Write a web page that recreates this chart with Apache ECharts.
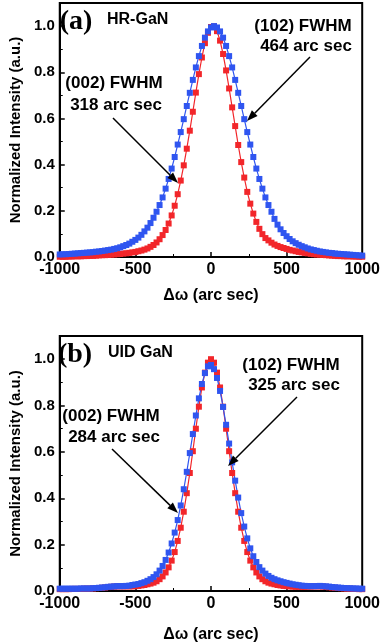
<!DOCTYPE html>
<html>
<head>
<meta charset="utf-8">
<script src="https://cdn.jsdelivr.net/npm/echarts@6/dist/echarts.min.js"></script>
<style>
  html, body { margin: 0; padding: 0; background: #fff; }
  #chart { width: 383px; height: 644px; }
</style>
</head>
<body>
<div id="chart"></div>
<script>
// omega offsets (arc sec)
var omega = [-1000, -980, -960, -940, -920, -900, -880, -860, -840, -820, -800, -780, -760, -740, -720, -700, -680, -660, -640, -620,
  -600, -580, -560, -540, -520, -500, -480, -460, -440, -420, -400, -380, -360, -340, -320, -300, -280, -260, -240, -220,
  -200, -180, -160, -140, -120, -100, -80, -60, -40, -20, 0, 20, 40, 60, 80, 100, 120, 140, 160, 180,
  200, 220, 240, 260, 280, 300, 320, 340, 360, 380, 400, 420, 440, 460, 480, 500, 520, 540, 560, 580,
  600, 620, 640, 660, 680, 700, 720, 740, 760, 780, 800, 820, 840, 860, 880, 900, 920, 940, 960, 980, 1000];

// (a) HR-GaN
var hr002 = [0.001, 0.001, 0.001, 0.002, 0.002, 0.003, 0.003, 0.003, 0.004, 0.004, 0.005, 0.005, 0.006, 0.007, 0.008, 0.008, 0.009, 0.010, 0.011, 0.012,
  0.013, 0.015, 0.016, 0.018, 0.020, 0.022, 0.025, 0.028, 0.032, 0.037, 0.044, 0.052, 0.063, 0.077, 0.095, 0.117, 0.145, 0.180, 0.222, 0.272,
  0.331, 0.397, 0.469, 0.547, 0.629, 0.712, 0.792, 0.864, 0.926, 0.971, 0.996, 0.999, 0.978, 0.937, 0.879, 0.808, 0.730, 0.648, 0.567, 0.485,
  0.411, 0.344, 0.282, 0.231, 0.188, 0.152, 0.122, 0.099, 0.082, 0.072, 0.062, 0.054, 0.048, 0.043, 0.039, 0.035, 0.031, 0.028, 0.025, 0.022,
  0.020, 0.018, 0.016, 0.014, 0.012, 0.011, 0.010, 0.009, 0.008, 0.007, 0.006, 0.005, 0.004, 0.004, 0.003, 0.003, 0.003, 0.002, 0.002, 0.001, 0.001];
var hr102 = [0.011, 0.012, 0.012, 0.013, 0.014, 0.015, 0.016, 0.017, 0.018, 0.019, 0.020, 0.021, 0.023, 0.024, 0.026, 0.028, 0.030, 0.032, 0.035, 0.038,
  0.042, 0.047, 0.052, 0.058, 0.066, 0.074, 0.084, 0.096, 0.111, 0.127, 0.147, 0.170, 0.196, 0.225, 0.258, 0.296, 0.338, 0.383, 0.433, 0.487,
  0.541, 0.597, 0.654, 0.711, 0.767, 0.821, 0.870, 0.914, 0.950, 0.977, 0.994, 1.000, 0.994, 0.977, 0.950, 0.914, 0.870, 0.821, 0.767, 0.711,
  0.654, 0.597, 0.541, 0.487, 0.433, 0.383, 0.338, 0.296, 0.258, 0.225, 0.196, 0.165, 0.140, 0.120, 0.104, 0.090, 0.078, 0.068, 0.060, 0.053,
  0.047, 0.042, 0.037, 0.033, 0.030, 0.027, 0.024, 0.022, 0.020, 0.018, 0.017, 0.015, 0.014, 0.013, 0.012, 0.011, 0.010, 0.009, 0.008, 0.007, 0.006];

// (b) UID GaN
var uid002 = [0.008, 0.008, 0.008, 0.008, 0.009, 0.009, 0.009, 0.009, 0.010, 0.010, 0.010, 0.011, 0.012, 0.013, 0.014, 0.015, 0.017, 0.018, 0.019, 0.020,
  0.020, 0.020, 0.020, 0.020, 0.020, 0.021, 0.022, 0.024, 0.026, 0.029, 0.032, 0.036, 0.042, 0.051, 0.063, 0.080, 0.102, 0.131, 0.168, 0.216,
  0.273, 0.342, 0.422, 0.509, 0.603, 0.700, 0.795, 0.878, 0.942, 0.985, 1.000, 0.985, 0.942, 0.878, 0.795, 0.700, 0.603, 0.509, 0.422, 0.342,
  0.273, 0.216, 0.168, 0.131, 0.102, 0.080, 0.063, 0.051, 0.042, 0.036, 0.032, 0.029, 0.026, 0.024, 0.022, 0.021, 0.020, 0.019, 0.018, 0.018,
  0.018, 0.018, 0.019, 0.019, 0.020, 0.020, 0.020, 0.019, 0.018, 0.016, 0.015, 0.014, 0.013, 0.012, 0.011, 0.010, 0.010, 0.009, 0.009, 0.008, 0.008];
var uid102 = [0.010, 0.010, 0.010, 0.010, 0.010, 0.010, 0.010, 0.011, 0.011, 0.011, 0.011, 0.012, 0.013, 0.014, 0.015, 0.016, 0.018, 0.019, 0.020, 0.021,
  0.021, 0.021, 0.022, 0.023, 0.026, 0.028, 0.030, 0.034, 0.038, 0.044, 0.051, 0.060, 0.072, 0.088, 0.108, 0.134, 0.166, 0.205, 0.252, 0.306,
  0.369, 0.439, 0.514, 0.595, 0.677, 0.757, 0.831, 0.893, 0.940, 0.969, 0.975, 0.957, 0.919, 0.863, 0.794, 0.717, 0.636, 0.555, 0.476, 0.403,
  0.336, 0.278, 0.227, 0.184, 0.150, 0.125, 0.103, 0.088, 0.075, 0.065, 0.057, 0.051, 0.046, 0.042, 0.038, 0.035, 0.032, 0.029, 0.027, 0.025,
  0.023, 0.022, 0.021, 0.021, 0.021, 0.021, 0.022, 0.021, 0.020, 0.019, 0.017, 0.016, 0.015, 0.014, 0.013, 0.012, 0.012, 0.011, 0.011, 0.010, 0.010];

var xTicks = [-1000, -500, 0, 500, 1000];
var yTicks = [0, 0.2, 0.4, 0.6, 0.8, 1.0];

var RED = "#f2262a", BLUE = "#2f55f0";
var SANS = "'Liberation Sans', Arial, sans-serif";
var SERIF = "'Liberation Serif', 'Times New Roman', serif";

function pairs(ys) {
    return omega.map(function (x, i) { return [x, ys[i]]; });
}

function xAxisFor(idx) {
    return {
        type: "value", gridIndex: idx, min: xTicks[0], max: xTicks[xTicks.length - 1], interval: 500,
        name: "\u0394\u03c9 (arc sec)", nameLocation: "middle", nameGap: idx ? 36 : 31,
        nameTextStyle: { fontFamily: SANS, fontWeight: "bold", fontSize: 16, color: "#000" },
        axisLine: { onZero: false, lineStyle: { color: "#000", width: 2 } },
        axisTick: { inside: true, length: 5, lineStyle: { color: "#000", width: 1.5 } },
        minorTick: { show: true, splitNumber: 2, length: 3, lineStyle: { color: "#000", width: 1 } },
        splitLine: { show: false },
        axisLabel: {
            fontFamily: SANS, fontWeight: "bold", fontSize: 16, color: "#000", margin: 5,
            formatter: function (v) { return String(v); }
        }
    };
}

function yAxisFor(idx) {
    return {
        type: "value", gridIndex: idx, min: 0, max: 1.1, interval: 0.2,
        name: "Normalized Intensity (a.u.)", nameLocation: "middle", nameGap: 29,
        nameTextStyle: { fontFamily: SANS, fontWeight: "bold", fontSize: 15, color: "#000" },
        axisLine: { onZero: false, lineStyle: { color: "#000", width: 2 } },
        axisTick: { inside: true, length: 5, lineStyle: { color: "#000", width: 1.5 } },
        minorTick: { show: true, splitNumber: 2, length: 3, lineStyle: { color: "#000", width: 1 } },
        splitLine: { show: false },
        axisLabel: {
            fontFamily: SANS, fontWeight: "bold", fontSize: 15, color: "#000", margin: 5,
            formatter: function (v) {
                return yTicks.some(function (t) { return Math.abs(t - v) < 1e-6; }) ? v.toFixed(1) : "";
            }
        }
    };
}

function curve(name, ys, color, idx) {
    return {
        name: name, type: "line", xAxisIndex: idx, yAxisIndex: idx, data: pairs(ys),
        symbol: "rect", symbolSize: 6, showSymbol: true,
        itemStyle: { color: color },
        lineStyle: { color: color, width: 1.2 }
    };
}

function txt(x, y, s, size, family, align) {
    return { type: "text", x: x, y: y, style: { text: s, fill: "#000", font: "bold " + size + "px " + (family || SANS), align: align || "center", verticalAlign: "middle" }, z: 10 };
}

function arrow(x1, y1, x2, y2) {
    var a = Math.atan2(y2 - y1, x2 - x1), L = 11, W = 4;
    var bx = x2 - L * Math.cos(a), by = y2 - L * Math.sin(a);
    var px = -Math.sin(a) * W, py = Math.cos(a) * W;
    return [
        { type: "line", shape: { x1: x1, y1: y1, x2: bx, y2: by }, style: { stroke: "#000", lineWidth: 1.5 }, z: 10 },
        { type: "polygon", shape: { points: [[x2, y2], [bx + px, by + py], [bx - px, by - py]] }, style: { fill: "#000" }, z: 10 }
    ];
}

var labels = [
    txt(76, 22, "(a)", 28, SERIF),
    txt(107, 20, "HR-GaN", 16, null, "left"),
    txt(303, 26, "(102) FWHM", 17),
    txt(306, 46, "464 arc sec", 17),
    txt(114, 83, "(002) FWHM", 17),
    txt(116, 105, "318 arc sec", 17),
    txt(75, 355, "(b)", 28, SERIF),
    txt(108, 353, "UID GaN", 16, null, "left"),
    txt(291, 365, "(102) FWHM", 17),
    txt(294, 385, "325 arc sec", 17),
    txt(111, 416, "(002) FWHM", 17),
    txt(114, 437, "284 arc sec", 17)
].concat(arrow(310, 57, 247, 121), arrow(113, 118, 178, 183), arrow(297, 397, 228, 466), arrow(112, 449, 178, 513));

var chart = echarts.init(document.getElementById("chart"), null, { renderer: "canvas" });
chart.setOption({
    animation: false,
    backgroundColor: "#fff",
    grid: [
        { left: 49, right: 18, top: 3, height: 254, show: true, borderColor: "#000", borderWidth: 2, backgroundColor: "transparent" },
        { left: 48, right: 19, top: 336, height: 257, show: true, borderColor: "#000", borderWidth: 2, backgroundColor: "transparent" }
    ],
    xAxis: [xAxisFor(0), xAxisFor(1)],
    yAxis: [yAxisFor(0), yAxisFor(1)],
    series: [
        curve("(002) HR-GaN", hr002, RED, 0),
        curve("(102) HR-GaN", hr102, BLUE, 0),
        curve("(002) UID GaN", uid002, RED, 1),
        curve("(102) UID GaN", uid102, BLUE, 1)
    ],
    graphic: labels
});
</script>
</body>
</html>
